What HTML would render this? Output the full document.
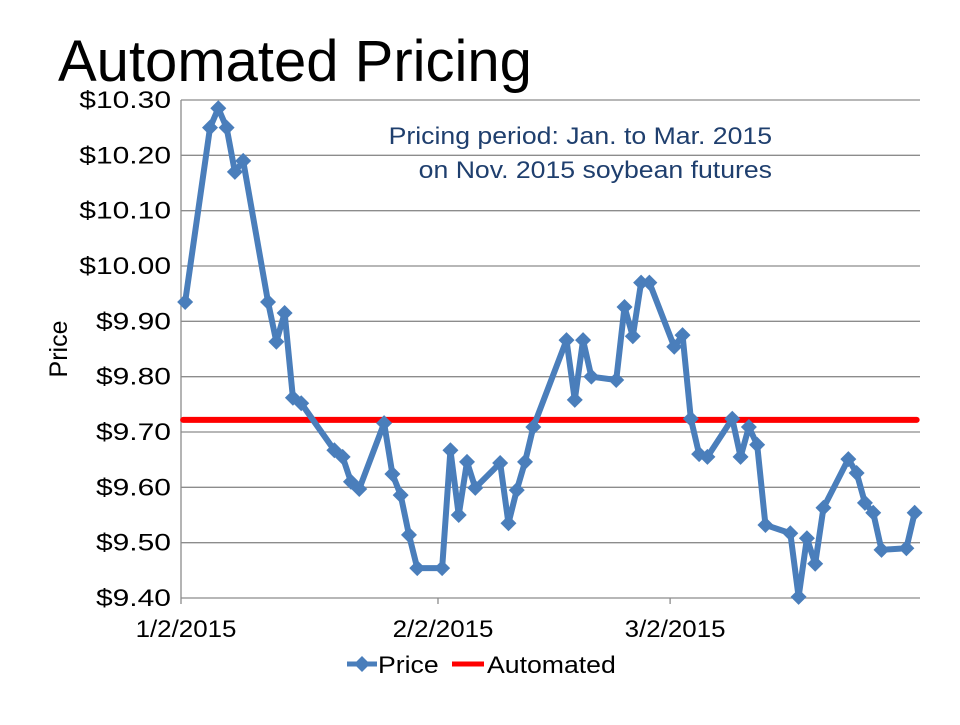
<!DOCTYPE html>
<html><head><meta charset="utf-8"><style>
body{margin:0;background:#fff;width:960px;height:720px;overflow:hidden;font-family:"Liberation Sans",sans-serif}
</style></head><body>
<svg width="960" height="720" xmlns="http://www.w3.org/2000/svg" font-family="Liberation Sans, sans-serif">
<text x="58" y="81" font-size="58" fill="#000">Automated Pricing</text>
<g id="grid"></g>
<g id="yt"></g>
<g id="xt"></g>
<text transform="translate(67,349) rotate(-90)" text-anchor="middle" font-size="25" fill="#000">Price</text>
<g id="series"></g>
<text transform="translate(772,144) scale(1.11,1)" text-anchor="end" font-size="24" fill="#1f3f6e">Pricing period: Jan. to Mar. 2015</text>
<text transform="translate(772,178) scale(1.11,1)" text-anchor="end" font-size="24" fill="#1f3f6e">on Nov. 2015 soybean futures</text>
<g>
<g>
<line x1="347" y1="664" x2="377" y2="664" stroke="#4a7ebb" stroke-width="5"/>
<path d="M362 656 L370 664 L362 672 L354 664Z" fill="#4a7ebb"/>
<text transform="translate(378,673) scale(1.11,1)" font-size="24">Price</text></g>
<g>
<line x1="452" y1="664" x2="484" y2="664" stroke="#f00" stroke-width="5"/>
<text transform="translate(487,673) scale(1.11,1)" font-size="24">Automated</text></g>
</g>
</svg>
<script>
const days=[0,3,4,5,6,7,10,11,12,13,14,18,19,20,21,24,25,26,27,28,31,32,33,34,35,38,39,40,41,42,46,47,48,49,52,53,54,55,56,59,60,61,62,63,66,67,68,69,70,73,74,75,76,77,80,81,82,83,84,87,88];
const prices=[9.935,10.25,10.285,10.25,10.17,10.19,9.935,9.863,9.915,9.762,9.752,9.667,9.655,9.61,9.597,9.716,9.624,9.586,9.514,9.454,9.454,9.667,9.55,9.646,9.599,9.644,9.535,9.595,9.646,9.709,9.866,9.758,9.866,9.80,9.794,9.926,9.873,9.97,9.97,9.854,9.875,9.724,9.66,9.655,9.724,9.655,9.709,9.677,9.532,9.517,9.402,9.508,9.462,9.563,9.651,9.626,9.572,9.554,9.487,9.49,9.554];
const automated=9.722;
const yTicks=[9.40,9.50,9.60,9.70,9.80,9.90,10.00,10.10,10.20,10.30];
const xTickDays=[0,31,59];
const xTickLabels=["1/2/2015","2/2/2015","3/2/2015"];
const L=181,R=920,T=100,B=598,ymin=9.40,ymax=10.30,dayW=8.29;
const X=d=>L+(d+0.5)*dayW, XT=d=>L+d*dayW;
const Y=v=>B-(v-ymin)/(ymax-ymin)*(B-T);
const NS="http://www.w3.org/2000/svg";
function mk(t,a,p){const e=document.createElementNS(NS,t);for(const k in a)e.setAttribute(k,a[k]);p.appendChild(e);return e;}
const grid=document.getElementById('grid'),yt=document.getElementById('yt'),xt=document.getElementById('xt'),sr=document.getElementById('series');
yTicks.forEach(v=>{
 const g=mk('line',{x1:L,x2:R,y1:Y(v),y2:Y(v),stroke:'#8c8c8c','stroke-width':1.3},grid);
 
 
 const t=mk('text',{transform:`translate(171,${Y(v)+8}) scale(1.25,1)`,'text-anchor':'end','font-size':24},yt);
 t.textContent='$'+v.toFixed(2);
 
 
});
mk('line',{x1:L,x2:L,y1:T,y2:B,stroke:'#8c8c8c','stroke-width':1.3},grid);
xTickDays.forEach((d,i)=>{
 mk('line',{x1:XT(d),x2:XT(d),y1:B,y2:B+6,stroke:'#8c8c8c','stroke-width':1.3},xt);
 const t=mk('text',{transform:`translate(${XT(d)+5},${B+39}) scale(1.08,1)`,'text-anchor':'middle','font-size':24},xt);
 t.textContent=xTickLabels[i];
 
 
});
const rl=mk('line',{x1:X(days[0])-2,x2:X(days[days.length-1])+2,y1:Y(automated),y2:Y(automated),stroke:'#f00','stroke-width':6,'stroke-linecap':'round'},sr);


const pts=days.map((d,i)=>X(d)+','+Y(prices[i])).join(' ');
const pl=mk('polyline',{points:pts,fill:'none',stroke:'#4a7ebb','stroke-width':6,'stroke-linejoin':'round'},sr);


days.forEach((d,i)=>{
 const x=X(d),y=Y(prices[i]);
 const m=mk('path',{d:`M${x} ${y-8}L${x+8} ${y}L${x} ${y+8}L${x-8} ${y}Z`,fill:'#4a7ebb'},sr);
 
 
});
</script>
</body></html>
